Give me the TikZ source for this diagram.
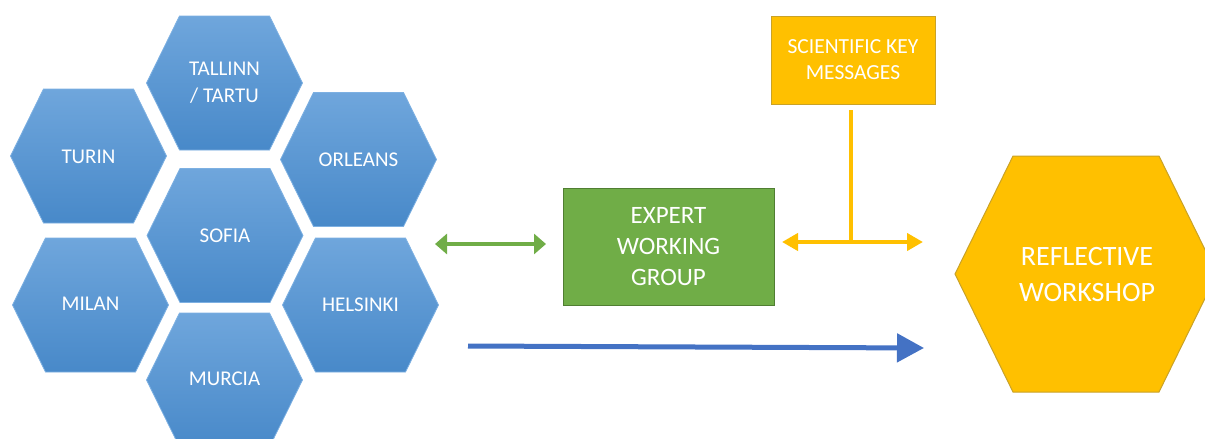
\documentclass[tikz,border=0pt]{standalone}
\usepackage{fontspec}
\setmainfont{Carlito}
\usetikzlibrary{arrows.meta}
\definecolor{hexTop}{HTML}{6FA6DC}
\definecolor{hexBot}{HTML}{4889C9}
\definecolor{hexEdge}{HTML}{7DB0E2}
\definecolor{ygold}{HTML}{FFC000}
\definecolor{ygoldEdge}{HTML}{C9A227}
\definecolor{egreen}{HTML}{70AD47}
\definecolor{egreenEdge}{HTML}{507E32}
\definecolor{ablue}{HTML}{4472C4}
\tikzset{
  cityhex/.style={top color=hexTop, bottom color=hexBot, draw=hexEdge, line width=0.8pt},
  hextext/.style={text=white, align=center, font=\fontsize{21}{27}\selectfont, inner sep=0pt},
  bigtext/.style={text=white, align=center, font=\fontsize{28}{36}\selectfont, inner sep=0pt},
  greenbox/.style={fill=egreen, draw=egreenEdge, line width=1pt, text=white, align=center,
    minimum width=211pt, minimum height=117pt, inner sep=0pt, font=\fontsize{25}{31}\selectfont},
  goldbox/.style={fill=ygold, draw=ygoldEdge, line width=1pt, text=white, align=center,
    minimum width=164pt, minimum height=88pt, inner sep=0pt, font=\fontsize{21.5}{26}\selectfont},
  greenarrow/.style={draw=egreen, line width=3.3pt, {Triangle[length=12pt,width=20pt]}-{Triangle[length=12pt,width=20pt]}},
  goldarrow/.style={draw=ygold, line width=4.7pt, {Triangle[length=16pt,width=17pt]}-{Triangle[length=16pt,width=17pt]}},
  goldline/.style={draw=ygold, line width=4.5pt},
  bluearrow/.style={draw=ablue, line width=5pt, -{Triangle[length=27pt,width=28pt]}}
}
\newcommand{\cityhexagon}[2]{%
  \path[cityhex] (#1,#2) ++(-78,0) -- ++(33,-67) -- ++(90,0) -- ++(33,67) -- ++(-33,67) -- ++(-90,0) -- cycle;}
\begin{document}
\begin{tikzpicture}[x=1pt,y=-1pt]
\useasboundingbox (0,0) rectangle (1205,439);
% city hexagons
\cityhexagon{224.5}{83}
\cityhexagon{88.5}{156}
\cityhexagon{358.5}{159.5}
\cityhexagon{225}{235.5}
\cityhexagon{90.5}{305}
\cityhexagon{360.5}{305}
\cityhexagon{224.5}{380}
\node[hextext] (tallinn) at (224.5,83) {TALLINN\\/ TARTU};
\node[hextext] (turin) at (88.5,157) {TURIN};
\node[hextext] (orleans) at (358.5,160) {ORLEANS};
\node[hextext] (sofia) at (225,236) {SOFIA};
\node[hextext] (milan) at (90.5,304) {MILAN};
\node[hextext] (helsinki) at (360.5,305) {HELSINKI};
\node[hextext] (murcia) at (224.5,379) {MURCIA};
% reflective workshop hexagon
\path[fill=ygold, draw=ygoldEdge, line width=1pt] (1086,274) ++(-131,0) -- ++(58,-118) -- ++(146,0) -- ++(58,118) -- ++(-58,118) -- ++(-146,0) -- cycle;
\node[bigtext] (rw) at (1087,275) {REFLECTIVE\\WORKSHOP};
% boxes
\node[greenbox] (ewg) at (668.5,246.5) {EXPERT\\WORKING\\GROUP};
\node[goldbox] (skm) at (853,60) {SCIENTIFIC KEY\\MESSAGES};
% connectors
\coordinate (gl) at (435,244);
\coordinate (gr) at (546,244);
\draw[greenarrow] (gl) -- (gr);
\coordinate (yl) at (782,242);
\coordinate (yr) at (923,242);
\coordinate (yt) at (851,110);
\coordinate (yj) at (851,242);
\draw[goldline] (yt) -- (yj);
\draw[goldarrow] (yl) -- (yr);
\coordinate (bl) at (468,346);
\coordinate (br) at (924,348);
\draw[bluearrow] (bl) -- (br);
\end{tikzpicture}
\end{document}
